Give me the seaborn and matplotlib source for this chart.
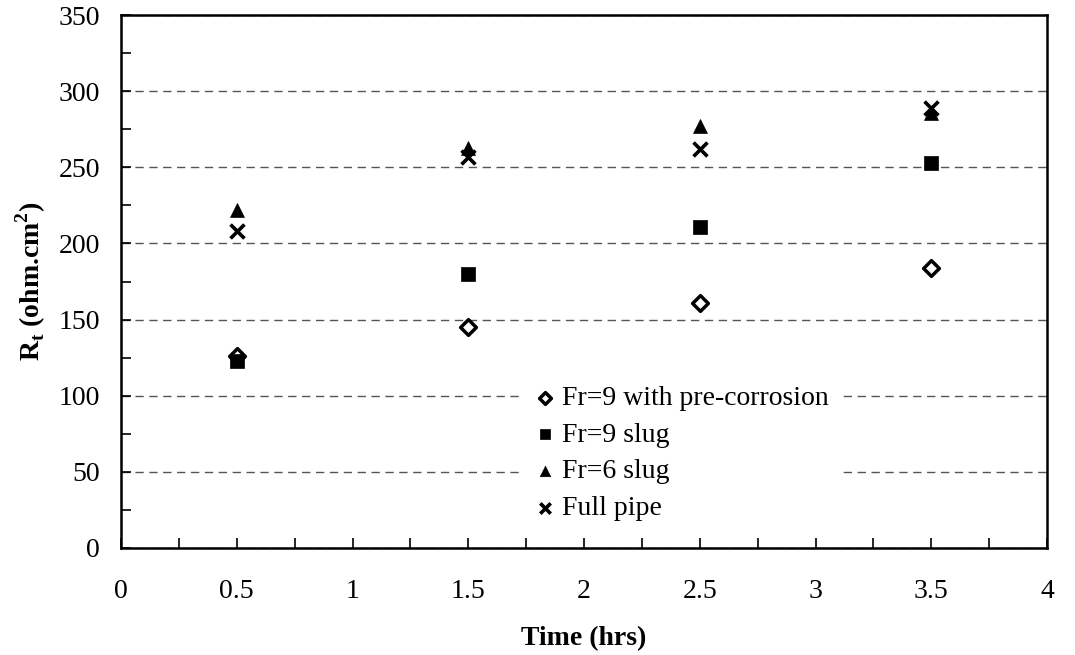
import matplotlib
matplotlib.use("Agg")
import matplotlib.pyplot as plt
import seaborn as sns
import pandas as pd
from matplotlib.ticker import MultipleLocator

time_hrs = [0.5, 1.5, 2.5, 3.5]
fr9_precorr = [126, 145, 161, 184]
fr9_slug = [123, 180, 211, 253]
fr6_slug = [222, 263, 277, 286]
full_pipe = [208, 257, 262, 289]

series_names = ["Fr=9 with pre-corrosion", "Fr=9 slug", "Fr=6 slug", "Full pipe"]
series_values = [fr9_precorr, fr9_slug, fr6_slug, full_pipe]
x_tick_labels = ["0", "0.5", "1", "1.5", "2", "2.5", "3", "3.5", "4"]

sns.set_theme(style="white")
plt.rcParams['font.family'] = ['Liberation Serif', 'DejaVu Serif']
plt.rcParams['text.color'] = 'black'
plt.rcParams['axes.labelcolor'] = 'black'
plt.rcParams['xtick.color'] = 'black'
plt.rcParams['ytick.color'] = 'black'

fig = plt.figure(figsize=(10.75, 6.55), dpi=100)
ax = fig.add_axes([0.1126, 0.1634, 0.8614, 0.8136])

styles = [
    dict(marker="D", s=64, facecolor="white", edgecolor="black", linewidth=2.5),
    dict(marker="s", s=100, color="black", edgecolor="black", linewidth=0.5),
    dict(marker="^", s=100, color="black", edgecolor="black", linewidth=0.5),
    dict(marker="x", s=100, color="black", linewidth=2.6),
]

for name, vals, st in zip(series_names, series_values, styles):
    df = pd.DataFrame({"t": time_hrs, "r": vals})
    sns.scatterplot(data=df, x="t", y="r", ax=ax, label=name, zorder=3, **st)

ax.set_xlim(0, 4)
ax.set_ylim(0, 350)
ax.xaxis.set_minor_locator(MultipleLocator(0.25))
ax.yaxis.set_major_locator(MultipleLocator(50))
ax.yaxis.set_minor_locator(MultipleLocator(25))
ax.set_xticks([0, 0.5, 1, 1.5, 2, 2.5, 3, 3.5, 4])
ax.set_xticklabels(x_tick_labels)
ax.tick_params(axis="both", which="both", direction="in", length=7, width=1.2,
               color="black", labelsize=20, labelcolor="black")
ax.tick_params(axis="x", which="both", top=False, bottom=True, pad=22)
ax.tick_params(axis="y", which="both", left=True, right=False, pad=15)

for sp in ax.spines.values():
    sp.set_color("black")
    sp.set_linewidth(1.8)

ax.yaxis.grid(True, which="major", linestyle=(0, (6, 4)), color="#555555", linewidth=1.0)
ax.xaxis.grid(False)
ax.set_axisbelow(True)

ax.set_xlabel("Time (hrs)", fontsize=20, fontweight="bold", labelpad=16, color="black")
ax.set_ylabel(r"R$_\mathregular{t}$ (ohm.cm$^\mathregular{2}$)", fontsize=20,
              fontweight="bold", labelpad=8, color="black")

leg = ax.legend(loc="lower left", bbox_to_anchor=(0.431, 0.03), frameon=True,
                fontsize=20, handletextpad=0.1, borderaxespad=0, labelspacing=0.4,
                handlelength=1.0, markerscale=0.75)
for txt in leg.get_texts():
    txt.set_color("black")
leg.get_frame().set_facecolor("white")
leg.get_frame().set_edgecolor("white")
leg.get_frame().set_alpha(1.0)
leg.set_zorder(5)

fig.savefig("out.png", dpi=100)
